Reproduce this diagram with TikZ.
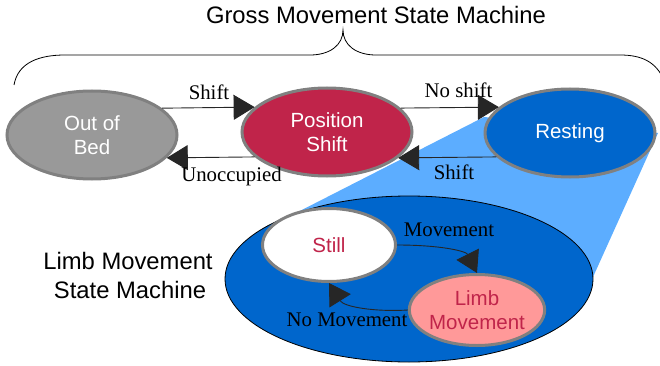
\documentclass[tikz,border=0pt]{standalone}
\usepackage{fontspec}
\setmainfont{Liberation Serif}
\setsansfont{Liberation Sans}
\usetikzlibrary{arrows.meta,shapes.geometric}
\definecolor{crim}{HTML}{C0244A}
\definecolor{bordergray}{HTML}{808080}
\definecolor{fillgray}{HTML}{999999}
\definecolor{darkblue}{HTML}{0066CC}
\definecolor{lightblue}{HTML}{5CADFF}
\definecolor{pink}{HTML}{FF9999}
\begin{document}
\begin{tikzpicture}[x=1pt,y=-1pt,
  state/.style={ellipse,draw=bordergray,line width=3pt,inner sep=0pt,align=center,
    font=\sffamily\fontsize{20.5}{24}\selectfont},
  conn/.style={draw=black!85,line width=0.9pt,-{Triangle[length=21pt,width=25pt]}},
  lbl/.style={font=\fontsize{20.8}{24}\selectfont,anchor=base,inner sep=0pt},
  bigtxt/.style={font=\sffamily\fontsize{23.8}{28}\selectfont,anchor=base,inner sep=0pt}]
\useasboundingbox (0,0) rectangle (660,366);

% brace
\draw[line width=0.8pt] (14,85) .. controls (18,62) and (40,55) .. (65,55) -- (310,55)
  .. controls (330,55) and (343,45) .. (343,30)
  .. controls (343,45) and (356,55) .. (376,55) -- (620,55)
  .. controls (642,55) and (656,62) .. (664,80);
\node[bigtxt] (title) at (376,24) {Gross Movement State Machine};

% zoom wedge
\fill[lightblue] (484,117) -- (658,133) -- (593,277) -- (290,216) -- cycle;

% limb movement machine container
\node[ellipse,draw=black,line width=0.8pt,fill=darkblue,minimum width=368pt,minimum height=166pt,inner sep=0pt] (lsm) at (409,279) {};
\node[bigtxt] (lsml1) at (128,269) {Limb Movement};
\node[bigtxt] (lsml2) at (130,298) {State Machine};

% gross states
\node[state,fill=fillgray,text=white,minimum width=170pt,minimum height=88pt] (oob) at (92,135) {Out of\\Bed};
\node[state,fill=crim,text=white,minimum width=170pt,minimum height=88pt] (ps) at (327,132) {Position\\Shift};
\node[state,fill=darkblue,text=white,minimum width=170pt,minimum height=88pt] (rest) at (570,133) {Resting};

% limb states
\node[state,fill=white,text=crim,minimum width=133pt,minimum height=73pt] (still) at (329,245) {Still};
\node[state,fill=pink,text=crim,minimum width=133pt,minimum height=71pt] (limb) at (477,310) {Limb\\Movement};

% connectors
\draw[conn] (oob.21.4) -- (ps.161.7);
\draw[conn] (ps.199.3) -- (oob.343.7);
\draw[conn] (ps.18.3) -- (rest.160.7);
\draw[conn] (rest.198.3) -- (ps.340.7);
\draw[conn] (still.east) .. controls (440,245) and (466,251) .. (limb.north);
\draw[conn] (limb.west) .. controls (375,312) and (344,307) .. (still.south);

% labels
\node[lbl] (l1) at (209,100) {Shift};
\node[lbl] (l2) at (231.5,181) {Unoccupied};
\node[lbl] (l3) at (458.5,98) {No shift};
\node[lbl] (l4) at (454,179) {Shift};
\node[lbl] (l5) at (449,236) {Movement};
\node[lbl] (l6) at (347,326) {No Movement};
\end{tikzpicture}
\end{document}
